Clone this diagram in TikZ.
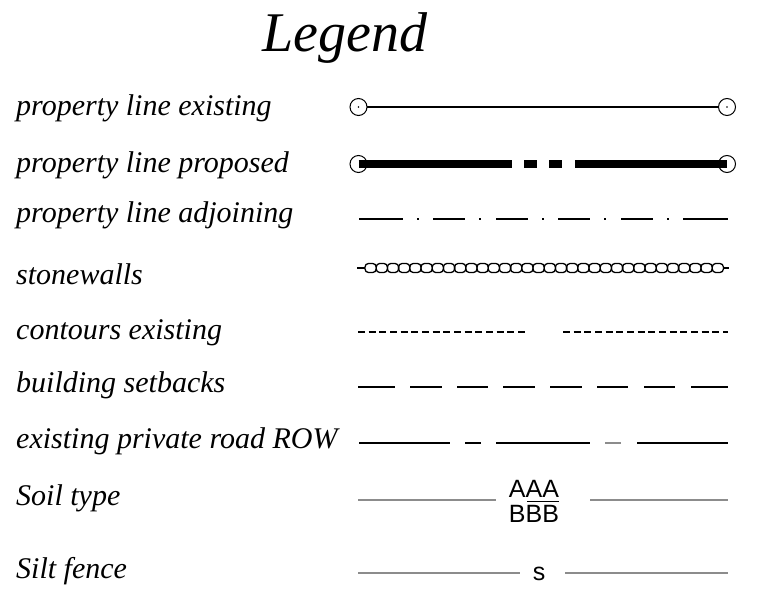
\documentclass[tikz,border=0pt]{standalone}
\usepackage{fontspec}
\setmainfont{Liberation Serif}
\newfontfamily\arialf{Liberation Sans}
\begin{document}
\begin{tikzpicture}[x=1pt,y=-1pt,
  lbl/.style={anchor=base west, inner sep=0pt, font=\fontsize{30}{36}\selectfont\itshape},
  thinln/.style={line width=1.5pt, line cap=butt},
  greyln/.style={line width=1.1pt, draw=black!45},
  endcirc/.style={line width=1pt},
  soiltxt/.style={anchor=base, inner sep=0pt, font=\arialf\fontsize{25}{30}\selectfont}]
\useasboundingbox (0,0) rectangle (762,601);

% title
\node[anchor=base, inner sep=0pt, font=\fontsize{56}{64}\selectfont\itshape] (title) at (345,52) {Legend};

% labels
\node[lbl] (l1) at (16,116) {property line existing};
\node[lbl] (l2) at (16,173) {property line proposed};
\node[lbl] (l3) at (16,223) {property line adjoining};
\node[lbl] (l4) at (16,285) {stonewalls};
\node[lbl] (l5) at (16,339) {contours existing};
\node[lbl] (l6) at (16,392) {building setbacks};
\node[lbl] (l7) at (16,448) {existing private road ROW};
\node[lbl] (l8) at (16,505) {Soil type};
\node[lbl] (l9) at (16,578) {Silt fence};

% row 1: property line existing
\coordinate (r1a) at (358.5,107);
\coordinate (r1b) at (727,107);
\draw[endcirc] (r1a) circle (8.5);
\draw[endcirc] (r1b) circle (8.5);
\fill (r1a) circle (0.9);
\fill (r1b) circle (0.9);
\draw[line width=1.6pt] ([xshift=8.5pt]r1a) -- ([xshift=-8.5pt]r1b);

% row 2: property line proposed
\coordinate (r2a) at (358.5,164);
\coordinate (r2b) at (727,164);
\draw[endcirc] (r2a) circle (8.5);
\draw[endcirc] (r2b) circle (8.5);
\begin{scope}[line width=7.5pt, line cap=butt]
  \draw (r2a) -- (512,164);
  \draw (524,164) -- (537,164);
  \draw (549,164) -- (562,164);
  \draw (575,164) -- (r2b);
\end{scope}

% row 3: property line adjoining
\begin{scope}[line width=2pt, line cap=butt]
  \foreach \a/\b in {359/403,433/465,496/528,558/590,621/653,683/728}
    \draw (\a,219) -- (\b,219);
  \foreach \d in {418,480,543,605,668}
    \draw (\d-0.6,219) -- (\d+0.6,219);
\end{scope}

% row 4: stonewalls
\draw[line width=1.2pt] (357,268) -- (365,268);
\draw[line width=1.2pt] (723.4,268) -- (729,268);
\foreach \i in {0,...,31}
  \draw[line width=1.3pt, rounded corners=3.5pt] (365+\i*11.2,263.5) rectangle (365+\i*11.2+11.2,272.5);

% row 5: contours existing
\begin{scope}[line width=1.5pt, dash pattern=on 7pt off 3.67pt]
  \draw (358,332) -- (525,332);
  \draw (563,332) -- (728,332);
\end{scope}

% row 6: building setbacks
\foreach \a/\b in {358/395,410/442,457/488,503/535,550/582,597/628,644/675,691/728}
  \draw[thinln] (\a,387) -- (\b,387);

% row 7: existing private road ROW
\foreach \a/\b in {359/450,465/481,496/590,637/728}
  \draw[thinln] (\a,443) -- (\b,443);
\draw[thinln, draw=black!45] (605,443) -- (621,443);

% row 8: soil type
\draw[greyln] (358,500) -- (496,500);
\draw[greyln] (590,500) -- (728,500);
\node[soiltxt] (aaa) at (534,497) {AAA};
\node[soiltxt] (bbb) at (534,522) {BBB};
\draw[line width=1pt] (527,501) -- (559,501);

% row 9: silt fence
\draw[greyln] (358,573) -- (520,573);
\draw[greyln] (565,573) -- (728,573);
\node[soiltxt] (sfs) at (539,580) {s};
\end{tikzpicture}
\end{document}
